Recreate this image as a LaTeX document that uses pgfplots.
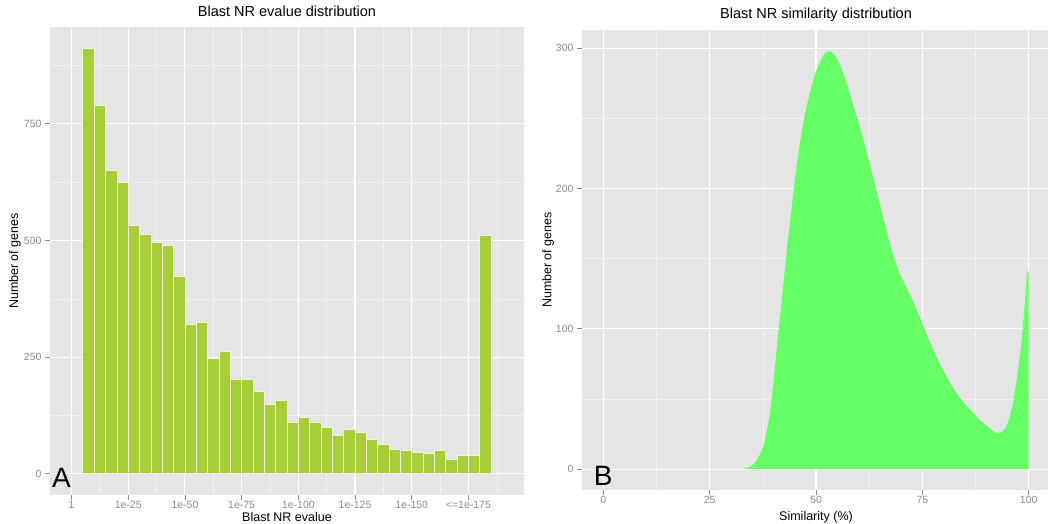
\documentclass[border=0pt]{standalone}
\usepackage{pgfplots}
\pgfplotsset{compat=1.18}
\usepackage{fontspec}
\setmainfont{Liberation Sans}
\definecolor{bggray}{HTML}{E5E5E5}
\definecolor{minorgrid}{HTML}{F2F2F2}
\definecolor{barfill}{HTML}{A6CE39}
\definecolor{barline}{HTML}{F0F6D2}
\definecolor{densgreen}{HTML}{66FF66}
\definecolor{ticklab}{HTML}{8C8C8C}
\pgfplotsset{
  ggstyle/.style={
    scale only axis,
    axis background/.style={fill=bggray},
    axis line style={draw=none},
    grid=both,
    major grid style={white, line width=1.1pt},
    minor grid style={minorgrid, line width=0.5pt},
    tick align=outside,
    major tick length=5pt,
    minor tick length=0pt,
    xtick pos=bottom, ytick pos=left,
    every tick/.style={ticklab, line width=0.8pt},
    tick label style={font=\fontsize{10.5}{12}\selectfont, text=ticklab},
    xticklabel style={inner sep=1pt},
    /pgf/number format/assume math mode=true,
    label style={font=\fontsize{12.5}{14}\selectfont},
    xlabel style={inner sep=0pt},
    title style={font=\fontsize{14.5}{17}\selectfont, at={(axis description cs:0.5,1)}, anchor=base},
  }
}
\begin{document}
\begin{tikzpicture}[x=1pt,y=1pt]
\path[use as bounding box] (0,0) rectangle (1048,523);
% ---------------- Panel A ----------------
\begin{axis}[ggstyle,
  at={(50pt,28pt)}, anchor=south west,
  width=474pt, height=468pt,
  xmin=-9.5, xmax=199.5, ymin=-45.6, ymax=957.6,
  xtick={0,25,50,75,100,125,150,175},
  xticklabels={1,1e-25,1e-50,1e-75,1e-100,1e-125,1e-150,<=1e-175},
  minor xtick={12.5,37.5,62.5,87.5,112.5,137.5,162.5,187.5},
  ytick={0,250,500,750},
  minor ytick={125,375,625,875},
  title={Blast NR evalue distribution},
  title style={yshift=4pt},
  xlabel={Blast NR evalue},
  xlabel style={at={(axis description cs:0.5,-0.0475)}, anchor=center},
  ylabel={Number of genes},
  ylabel style={at={(axis description cs:-0.0738,0.5)}, anchor=center},
]
\addplot[ybar, bar width=5, bar shift=0pt, fill=barfill, draw=barline, line width=0.8pt]
 coordinates {
 (7.5,912) (12.5,789) (17.5,651) (22.5,624) (27.5,532) (32.5,513)
 (37.5,495) (42.5,489) (47.5,422) (52.5,321) (57.5,324) (62.5,247)
 (67.5,263) (72.5,203) (77.5,203) (82.5,177) (87.5,148) (92.5,157)
 (97.5,111) (102.5,120) (107.5,111) (112.5,100) (117.5,83) (122.5,95)
 (127.5,88) (132.5,73) (137.5,62) (142.5,52) (147.5,49) (152.5,45)
 (157.5,44) (162.5,50) (167.5,30) (172.5,40) (177.5,40) (182.5,510)
 };
\node[font=\fontsize{28}{30}\selectfont, anchor=center] at (axis cs:-4.5,-8) {A};
\end{axis}
% ---------------- Panel B ----------------
\begin{axis}[ggstyle,
  at={(582pt,33pt)}, anchor=south west,
  width=468pt, height=460pt,
  xmin=-5, xmax=105, ymin=-14.9, ymax=313,
  xtick={0,25,50,75,100},
  minor xtick={12.5,37.5,62.5,87.5},
  ytick={0,100,200,300},
  minor ytick={50,150,250},
  title={Blast NR similarity distribution},
  title style={yshift=6pt},
  xlabel={Similarity (\%)},
  xlabel style={at={(axis description cs:0.5,-0.0585)}, anchor=center},
  ylabel={Number of genes},
  ylabel style={at={(axis description cs:-0.0726,0.5)}, anchor=center},
]
\addplot[fill=densgreen, draw=none] coordinates {
 (32.5,0) (33.5,0.5) (34.6,1.6) (35.8,5) (36.9,11) (37.8,18) (38.5,28)
 (39.1,38) (39.6,51) (40.2,68) (40.8,87) (41.4,105) (42.0,122) (42.6,140)
 (43.2,158) (44.0,179) (44.7,198) (45.5,217) (46.3,234) (47.4,253)
 (48.6,269) (49.8,282) (51.0,291) (52.2,297) (53.3,298) (54.5,295)
 (55.7,288) (56.9,278) (58.0,267) (60.4,243) (62.7,217) (65.0,189)
 (67.4,160) (68.6,148) (69.7,139) (71.2,130) (72.8,120) (74.4,108)
 (76.0,96) (77.6,85) (79.1,75) (80.7,66) (82.2,58) (83.8,51) (85.4,45)
 (87.0,40) (88.5,35) (89.7,32) (90.9,29) (91.9,26.5) (92.8,25.5)
 (93.7,26.5) (94.7,30) (95.5,37) (96.3,47) (97.1,62) (97.9,80) (98.5,97)
 (99.0,115) (99.4,132) (99.7,142) (100,140) (100,0)
} \closedcycle;
\node[font=\fontsize{28}{30}\selectfont, anchor=center] at (axis cs:0,-5.1) {B};
\end{axis}
\end{tikzpicture}
\end{document}
